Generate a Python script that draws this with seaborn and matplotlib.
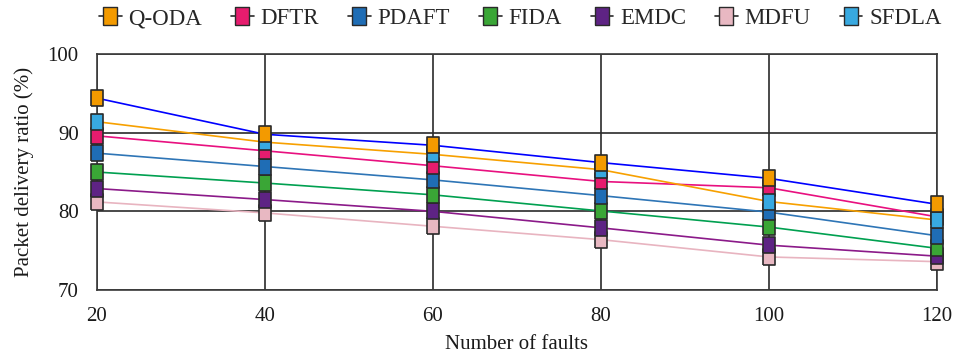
import matplotlib
matplotlib.use("Agg")
import matplotlib.pyplot as plt
from matplotlib.lines import Line2D
import pandas as pd
import seaborn as sns

# Packet delivery ratio (%) versus number of faults for each scheme
faults = [20, 40, 60, 80, 100, 120]
methods = ["Q-ODA", "DFTR", "PDAFT", "FIDA", "EMDC", "MDFU", "SFDLA"]
q_oda = [94.4, 89.8, 88.4, 86.2, 84.2, 80.9]
dftr = [89.6, 87.7, 85.8, 83.8, 83.0, 79.3]
pdaft = [87.4, 85.7, 84.0, 82.0, 79.9, 76.9]
fida = [85.0, 83.6, 82.1, 80.05, 78.0, 75.3]
emdc = [82.9, 81.5, 80.0, 77.9, 75.7, 74.3]
mdfu = [81.2, 79.8, 78.1, 76.4, 74.2, 73.6]
sfdla = [91.4, 88.8, 87.25, 85.3, 81.25, 78.9]
series = [q_oda, dftr, pdaft, fida, emdc, mdfu, sfdla]

line_colors = ["#0000FF", "#E8107F", "#2E75B6", "#00A050", "#8B1A89", "#E8B4C0", "#F7A000"]
marker_colors = ["#F39A00", "#E61C6E", "#1F6DB5", "#3AA636", "#5E2384", "#E8B8C2", "#38A9E0"]
# stacking of the marker boxes (higher is drawn on top)
marker_layer = [17, 15, 14, 13, 12, 11, 16]

df = pd.DataFrame({
    "faults": faults * len(methods),
    "pdr": [v for s in series for v in s],
    "method": [m for m in methods for _ in faults],
})

sns.set_theme(style="white")
plt.rcParams["font.family"] = ["Liberation Serif", "DejaVu Serif"]

fig = plt.figure(figsize=(9.58, 3.58), dpi=100)
ax = fig.add_axes([0.101, 0.190, 0.877, 0.659])

sns.lineplot(data=df, x="faults", y="pdr", hue="method", hue_order=methods,
             palette=line_colors, linewidth=1.2, legend=False, ax=ax, zorder=3)

# tall rectangular markers drawn above every line
rect = [(-0.375, -0.5), (0.375, -0.5), (0.375, 0.5), (-0.375, 0.5), (-0.375, -0.5)]
for vals, fc, z in zip(series, marker_colors, marker_layer):
    ax.plot(faults, vals, linestyle="none", marker=rect, markersize=11.7,
            markerfacecolor=fc, markeredgecolor="#2a2a2a", markeredgewidth=1.2,
            zorder=z, clip_on=False)

ax.set_xlim(20, 120)
ax.set_ylim(70, 100)
ax.set_xticks(faults)
ax.set_yticks([70, 80, 90, 100])
ax.grid(True, color="#2a2a2a", linewidth=1.2)
ax.set_axisbelow(True)
for sp in ax.spines.values():
    sp.set_color("#3a3a3a")
    sp.set_linewidth(1.2)

ax.tick_params(axis="both", length=0, labelsize=15, colors="#1a1a1a")
ax.tick_params(axis="y", pad=13)
ax.tick_params(axis="x", pad=12)
ax.set_xlabel("Number of faults", fontsize=15, color="#1a1a1a", labelpad=7)
ax.set_ylabel("Packet delivery ratio (%)", fontsize=15, color="#1a1a1a", labelpad=10)

handles = [Line2D([0], [0], color="#2a2a2a", linewidth=1.2, marker=rect,
                  markersize=12.5, markerfacecolor=fc, markeredgecolor="#2a2a2a",
                  markeredgewidth=1.0) for fc in marker_colors]
fig.legend(handles, methods, loc="center", bbox_to_anchor=(0.543, 0.948), ncol=7,
           frameon=False, fontsize=16.5, handlelength=1.0, handletextpad=0.3,
           columnspacing=1.25)

fig.savefig("out.png", dpi=100)
